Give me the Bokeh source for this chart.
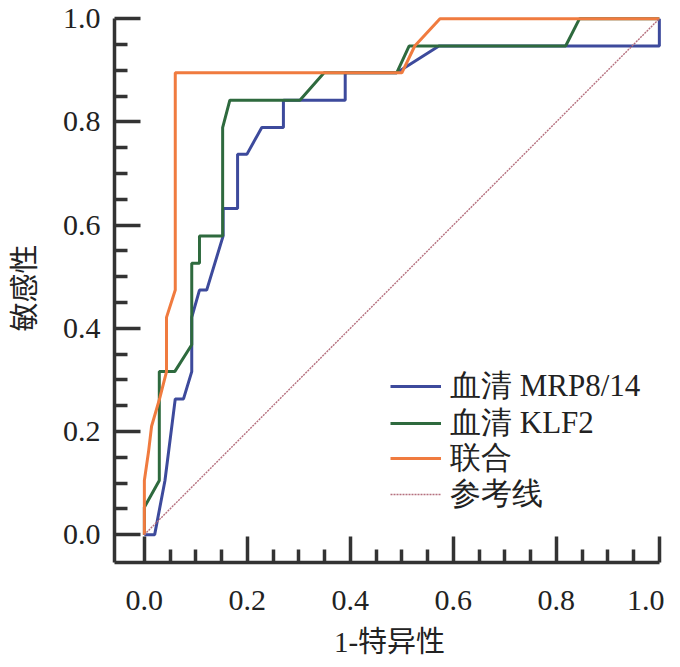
from bokeh.plotting import figure
from bokeh.models import Range1d, FixedTicker, Legend, LegendItem
from bokeh.embed import file_html
from bokeh.resources import INLINE

# ROC data (x = 1 - specificity, y = sensitivity)
mrp_x = [0.0, 0.02, 0.04, 0.06, 0.076, 0.092, 0.092, 0.107, 0.121, 0.153, 0.153, 0.181, 0.181, 0.199, 0.228, 0.27, 0.27, 0.39, 0.39, 0.49, 0.572, 1.0, 1.0]
mrp_y = [0.0, 0.0, 0.105, 0.263, 0.263, 0.316, 0.421, 0.474, 0.474, 0.579, 0.632, 0.632, 0.737, 0.737, 0.789, 0.789, 0.842, 0.842, 0.895, 0.895, 0.947, 0.947, 1.0]

klf_x = [0.0, 0.0, 0.029, 0.029, 0.059, 0.092, 0.092, 0.107, 0.107, 0.152, 0.152, 0.166, 0.302, 0.349, 0.49, 0.514, 0.818, 0.845, 1.0]
klf_y = [0.0, 0.053, 0.105, 0.316, 0.316, 0.368, 0.526, 0.526, 0.579, 0.579, 0.789, 0.842, 0.842, 0.895, 0.895, 0.947, 0.947, 1.0, 1.0]

comb_x = [0.0, 0.0, 0.008, 0.014, 0.03, 0.043, 0.043, 0.06, 0.06, 0.50, 0.525, 0.574, 1.0]
comb_y = [0.0, 0.105, 0.16, 0.21, 0.265, 0.316, 0.421, 0.474, 0.895, 0.895, 0.947, 1.0, 1.0]

ref_x = [0.0, 1.0]
ref_y = [0.0, 1.0]

labels = ["血清 MRP8/14", "血清 KLF2", "联合", "参考线"]
colors = ["#3d4a9c", "#2e6a3e", "#f07b3f", "#b5707e"]
major_ticks = [0.0, 0.2, 0.4, 0.6, 0.8, 1.0]
minor_ticks = [0.05, 0.1, 0.15, 0.25, 0.3, 0.35, 0.45, 0.5, 0.55, 0.65, 0.7, 0.75, 0.85, 0.9, 0.95]

p = figure(frame_width=550, frame_height=549,
           x_range=Range1d(-0.058, 1.01), y_range=Range1d(-0.054, 1.01),
           output_backend="svg", toolbar_location=None,
           min_border_left=114, min_border_top=13, min_border_right=0, min_border_bottom=89)
p.outline_line_color = None
p.grid.visible = False
p.background_fill_color = "white"
p.border_fill_color = "white"

r_mrp = p.line(mrp_x, mrp_y, line_color=colors[0], line_width=3)
r_klf = p.line(klf_x, klf_y, line_color=colors[1], line_width=3)
r_comb = p.line(comb_x, comb_y, line_color=colors[2], line_width=3)
r_ref = p.line(ref_x, ref_y, line_color=colors[3], line_width=1.4, line_dash="2 1")

for ax in (p.xaxis[0], p.yaxis[0]):
    ax.ticker = FixedTicker(ticks=major_ticks, minor_ticks=minor_ticks)
    ax.axis_line_width = 3.5
    ax.axis_line_color = "#333333"
    ax.major_tick_line_width = 3.5
    ax.major_tick_line_color = "#333333"
    ax.minor_tick_line_width = 3.5
    ax.minor_tick_line_color = "#333333"
    ax.major_tick_in = 26
    ax.major_tick_out = 0
    ax.minor_tick_in = 13
    ax.minor_tick_out = 0
    ax.major_label_text_font = "Liberation Serif"
    ax.major_label_text_font_size = "30px"
    ax.major_label_text_color = "#222222"
    ax.axis_label_text_font = "Liberation Serif, Noto Sans CJK SC"
    ax.axis_label_text_font_size = "29px"
    ax.axis_label_text_font_style = "normal"
    ax.axis_label_text_color = "#222222"

p.xaxis[0].bounds = (-0.058, 1.0)
p.yaxis[0].bounds = (-0.054, 1.0)
p.xaxis[0].major_label_standoff = 28
p.yaxis[0].major_label_standoff = 14
p.xaxis[0].axis_label = "1-特异性"
p.yaxis[0].axis_label = "敏感性"
p.xaxis[0].axis_label_standoff = 13
p.yaxis[0].axis_label_standoff = 19
p.xaxis[0].major_label_overrides = {t: f"{t:.1f}" for t in major_ticks}
p.yaxis[0].major_label_overrides = {t: f"{t:.1f}" for t in major_ticks}

# one legend per row, so the row pitch matches the reference
renderers = [r_mrp, r_klf, r_comb, r_ref]
row_offsets = [155, 118, 83, 47]
for lab, rend, yoff in zip(labels, renderers, row_offsets):
    lg = Legend(items=[LegendItem(label=lab, renderers=[rend])], location=(276, yoff))
    lg.border_line_color = None
    lg.background_fill_alpha = 0
    lg.padding = 0
    lg.margin = 0
    lg.spacing = 0
    lg.glyph_width = 51
    lg.glyph_height = 36
    lg.label_height = 36
    lg.label_standoff = 9
    lg.label_text_font = "Liberation Serif"
    lg.label_text_font_size = "31px"
    lg.label_text_color = "#222222"
    p.add_layout(lg, "center")

open("out.html", "w").write(file_html(p, INLINE))
